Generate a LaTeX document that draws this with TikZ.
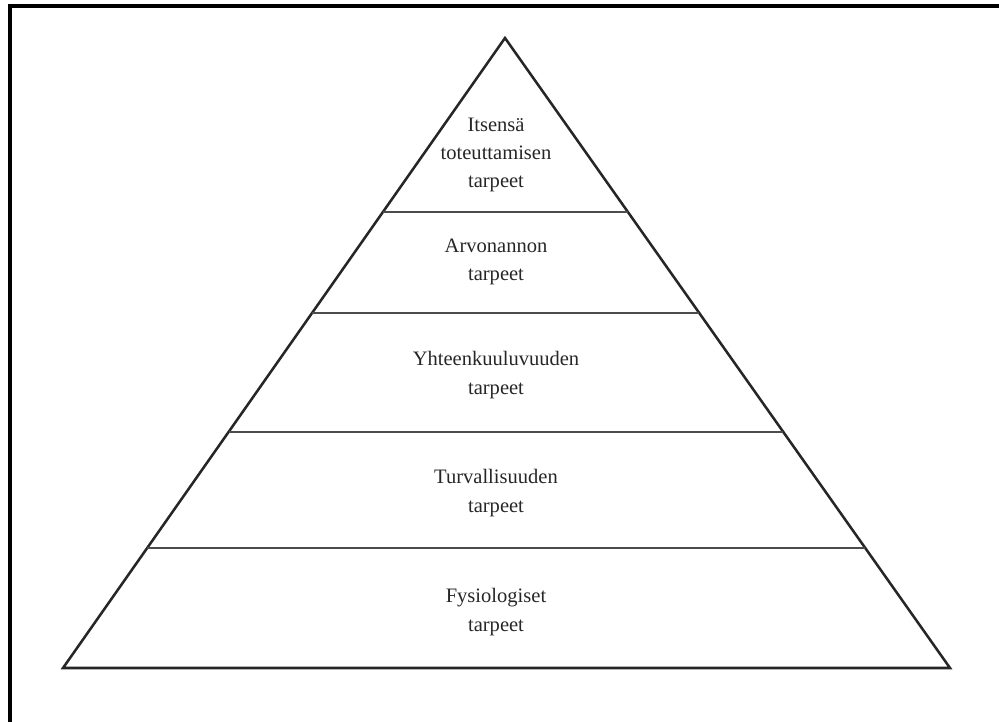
\documentclass[tikz,border=0pt]{standalone}
\usepackage{fontspec}
\setmainfont{Liberation Serif}
\usetikzlibrary{calc}
\begin{document}
\begin{tikzpicture}[x=0.025cm,y=-0.025cm,
	side/.style={line width=1.8pt, black!85, line join=miter},
	layer/.style={line width=1pt, black!70},
	frame/.style={line width=0.1cm, black},
	level/.style={
		font=\fontsize{14.6}{20}\selectfont,
		text=black!85,
		align=center}]
	\useasboundingbox (0,0) rectangle (999,722);
	\draw [frame] (10,722) -- (10,6) -- (999,6);
	\coordinate (top) at (505,38);
	\coordinate (bl) at (63,668);
	\coordinate (br) at (950,668);
	\draw [side] (bl) -- (top) -- (br) -- cycle;
	\foreach \t [count=\i] in {0.2762,0.4365,0.6254,0.8095} {
		\coordinate (l\i) at ($(top)!\t!(bl)$);
		\coordinate (r\i) at ($(top)!\t!(br)$);
		\draw [layer] (l\i) -- (r\i);
	}
	\node [level] (v1) at (496,155) {Itsensä\\toteuttamisen\\tarpeet};
	\node [level] (v2) at (496,262) {Arvonannon\\tarpeet};
	\node [level] (v3) at (496,375) {Yhteenkuuluvuuden\\tarpeet};
	\node [level] (v4) at (496,493) {Turvallisuuden\\tarpeet};
	\node [level] (v5) at (496,612) {Fysiologiset\\tarpeet};
\end{tikzpicture}
\end{document}
